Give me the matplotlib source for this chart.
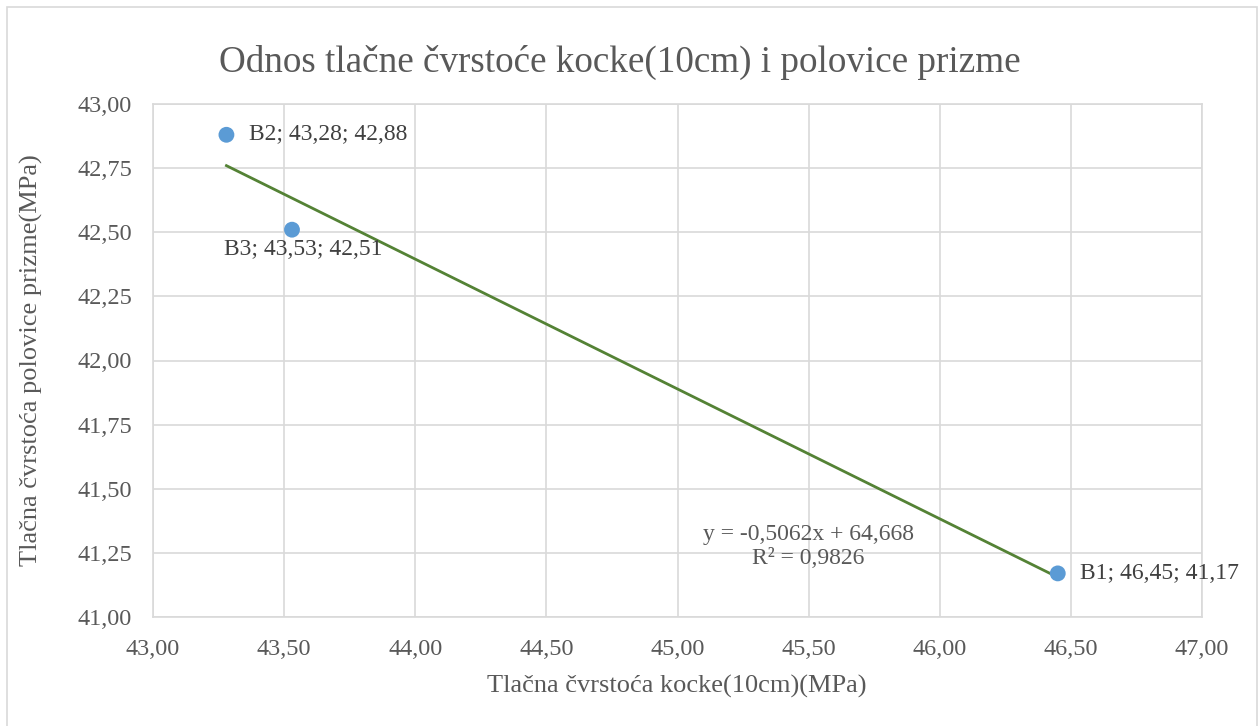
import matplotlib
matplotlib.use("Agg")
import matplotlib.pyplot as plt
from matplotlib.ticker import FuncFormatter, MultipleLocator
from matplotlib.patches import Rectangle

# data
labels = ["B1", "B2", "B3"]
kocka = [46.45, 43.28, 43.53]
prizma = [41.17, 42.88, 42.51]
slope = -0.5062
intercept = 64.668
r2 = 0.9826

plt.rcParams['font.family'] = ['Liberation Serif', 'DejaVu Serif']
txt = '#595959'
grid_c = '#D9D9D9'

W, H = 1260, 726
fig = plt.figure(figsize=(W / 100, H / 100), dpi=100)

# outer chart border
fig.patches.append(Rectangle((7 / W, -0.01), 1250 / W, 1 - 7 / H + 0.01, transform=fig.transFigure,
                             fill=False, edgecolor=grid_c, linewidth=1.2))

ax = fig.add_axes([153 / W, (H - 617) / H, 1049 / W, 513 / H])
ax.set_xlim(43, 47)
ax.set_ylim(41, 43)
ax.xaxis.set_major_locator(MultipleLocator(0.5))
ax.yaxis.set_major_locator(MultipleLocator(0.25))
fmt = FuncFormatter(lambda v, p: f"{v:.2f}".replace('.', ','))
ax.xaxis.set_major_formatter(fmt)
ax.yaxis.set_major_formatter(fmt)
ax.grid(True, color=grid_c, linewidth=1.2)
ax.set_axisbelow(True)
for s in ax.spines.values():
    s.set_color(grid_c)
    s.set_linewidth(1.2)
ax.tick_params(length=0, labelsize=17.5, colors=txt)
ax.tick_params(axis='y', pad=15)
ax.tick_params(axis='x', pad=16)

# trendline
x0, x1 = min(kocka), max(kocka)
ax.plot([x0, x1], [slope * x0 + intercept, slope * x1 + intercept], color='#548235', linewidth=2, zorder=2)

ax.scatter(kocka, prizma, s=130, color='#5B9BD5', zorder=3, edgecolors='none')

# data labels
for lab, xv, yv in zip(labels, kocka, prizma):
    s = f"{lab}; {xv:.2f}; {yv:.2f}".replace('.', ',')
    if lab == "B3":
        ax.annotate(s, (xv, yv), xytext=(8, -14), textcoords='offset points', ha='center', va='center',
                    fontsize=17, color='#404040')
    else:
        ax.annotate(s, (xv, yv), xytext=(16, 0), textcoords='offset points', ha='left', va='center',
                    fontsize=17, color='#404040')

eq = f"y = {slope:.4f}x + {intercept:.3f}\nR² = {r2:.4f}".replace('.', ',')
ax.text(45.5, 41.275, eq, ha='center', va='center', fontsize=17, color=txt, linespacing=1.2)

fig.text(620 / W, 1 - 62 / H, "Odnos tlačne čvrstoće kocke(10cm) i polovice prizme",
         fontsize=26.7, color=txt, ha='center', va='center')
fig.text(677 / W, 1 - 686 / H, "Tlačna čvrstoća kocke(10cm)(MPa)", fontsize=19, color=txt,
         ha='center', va='center')
fig.text(31 / W, 1 - 360 / H, "Tlačna čvrstoća polovice prizme(MPa)", fontsize=19, color=txt,
         ha='center', va='center', rotation=90)

fig.savefig("out.png", dpi=100)
